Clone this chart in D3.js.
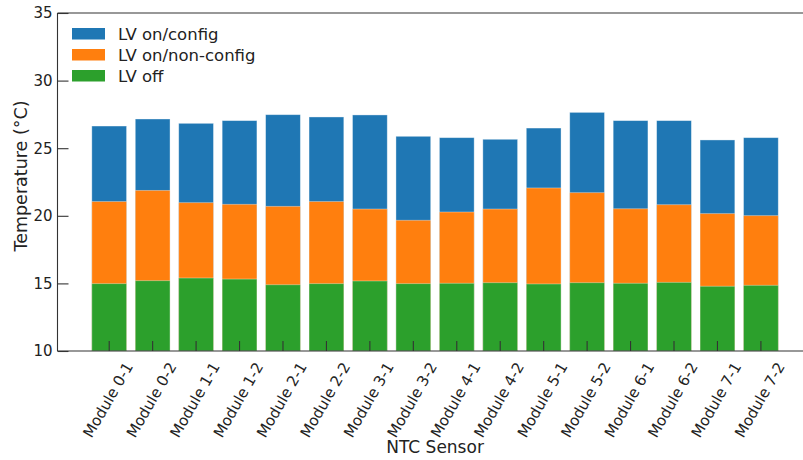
<!DOCTYPE html>
<html><head><meta charset="utf-8">
<script src="https://cdn.jsdelivr.net/npm/d3@7/dist/d3.min.js"></script>
<style>body{margin:0;background:#fff}svg{display:block}text{font-family:"DejaVu Sans",sans-serif;fill:#222}</style>
</head><body><svg id="c" width="803" height="460"></svg>
<script>
const categories = ["Module 0-1","Module 0-2","Module 1-1","Module 1-2","Module 2-1","Module 2-2","Module 3-1","Module 3-2","Module 4-1","Module 4-2","Module 5-1","Module 5-2","Module 6-1","Module 6-2","Module 7-1","Module 7-2"];
const lvOnConfig    = [26.64,27.16,26.84,27.04,27.48,27.31,27.46,25.88,25.78,25.66,26.49,27.65,27.04,27.04,25.61,25.78];
const lvOnNonConfig = [21.05,21.88,20.97,20.85,20.70,21.05,20.50,19.67,20.28,20.50,22.06,21.71,20.52,20.82,20.16,20.01];
const lvOff         = [14.98,15.20,15.40,15.32,14.90,14.98,15.18,14.98,15.01,15.05,14.96,15.05,15.01,15.08,14.79,14.86];
const yTicks = [10,15,20,25,30,35];
const seriesNames = ["LV on/config","LV on/non-config","LV off"];
const colors = ["#1f77b4","#ff7f0e","#2ca02c"];

const svg = d3.select("#c");
const pLeft = 57.5, pRight = 812.6, pTop = 13, pBottom = 351;
const n = categories.length;
const x = d3.scaleLinear().domain([-1.19, n - 1 + 1.19]).range([pLeft, pRight]);
const y = d3.scaleLinear().domain([10, 35]).range([pBottom, pTop]);
const bw = 0.8;

const series = [lvOnConfig, lvOnNonConfig, lvOff];
series.forEach((vals, si) => {
  svg.append("g").selectAll("rect").data(vals).join("rect")
    .attr("x", (d, i) => x(i - bw / 2))
    .attr("width", (d, i) => x(i + bw / 2) - x(i - bw / 2))
    .attr("y", d => y(d))
    .attr("height", d => y(10) - y(d))
    .attr("fill", colors[si])
    .attr("stroke", "rgba(255,255,255,0.45)")
    .attr("stroke-width", 0.8);
});

// spines
const sp = svg.append("g").attr("stroke", "#333").attr("stroke-width", 1.1).attr("fill", "none");
sp.append("line").attr("x1", pLeft).attr("x2", pLeft).attr("y1", pTop).attr("y2", pBottom);
sp.append("line").attr("x1", pLeft).attr("x2", 803).attr("y1", pTop).attr("y2", pTop);
sp.append("line").attr("x1", pLeft).attr("x2", 803).attr("y1", pBottom).attr("y2", pBottom);

// y axis ticks (inward)
const yAxis = d3.axisLeft(y).tickValues(yTicks).tickSizeInner(-11).tickSizeOuter(0).tickPadding(5).tickFormat(d3.format("d"));
const gy = svg.append("g").attr("transform", `translate(${pLeft},0)`).call(yAxis);
gy.select(".domain").remove();
gy.selectAll("line").attr("stroke", "#333").attr("stroke-width", 1.1);
gy.selectAll("text").attr("font-size", 15).attr("fill", "#222").style("font-family", "DejaVu Sans");

// x ticks (inward)
const gx = svg.append("g");
gx.selectAll("line").data(categories).join("line")
  .attr("x1", (d, i) => x(i)).attr("x2", (d, i) => x(i))
  .attr("y1", pBottom).attr("y2", pBottom - 10)
  .attr("stroke", "#333").attr("stroke-width", 1.1);
gx.selectAll("text").data(categories).join("text")
  .attr("transform", (d, i) => `translate(${x(i) - 1},400) rotate(-60)`)
  .attr("text-anchor", "middle").attr("dominant-baseline", "central")
  .attr("font-size", 15).text(d => d);

// axis labels
svg.append("text").attr("x", (pLeft + pRight) / 2).attr("y", 453).attr("text-anchor", "middle")
  .attr("font-size", 17).text("NTC Sensor");
svg.append("text").attr("transform", `translate(21,176) rotate(-90)`)
  .attr("text-anchor", "middle").attr("dominant-baseline", "central")
  .attr("font-size", 17.5).text("Temperature (°C)");

// legend
const lg = svg.append("g");
seriesNames.forEach((name, i) => {
  const cy = 34 + i * 21;
  lg.append("rect").attr("x", 72).attr("y", cy - 6).attr("width", 33).attr("height", 11.5).attr("fill", colors[i]);
  lg.append("text").attr("x", 118).attr("y", cy).attr("dominant-baseline", "central").attr("font-size", 16.5).text(name);
});
</script></body></html>
